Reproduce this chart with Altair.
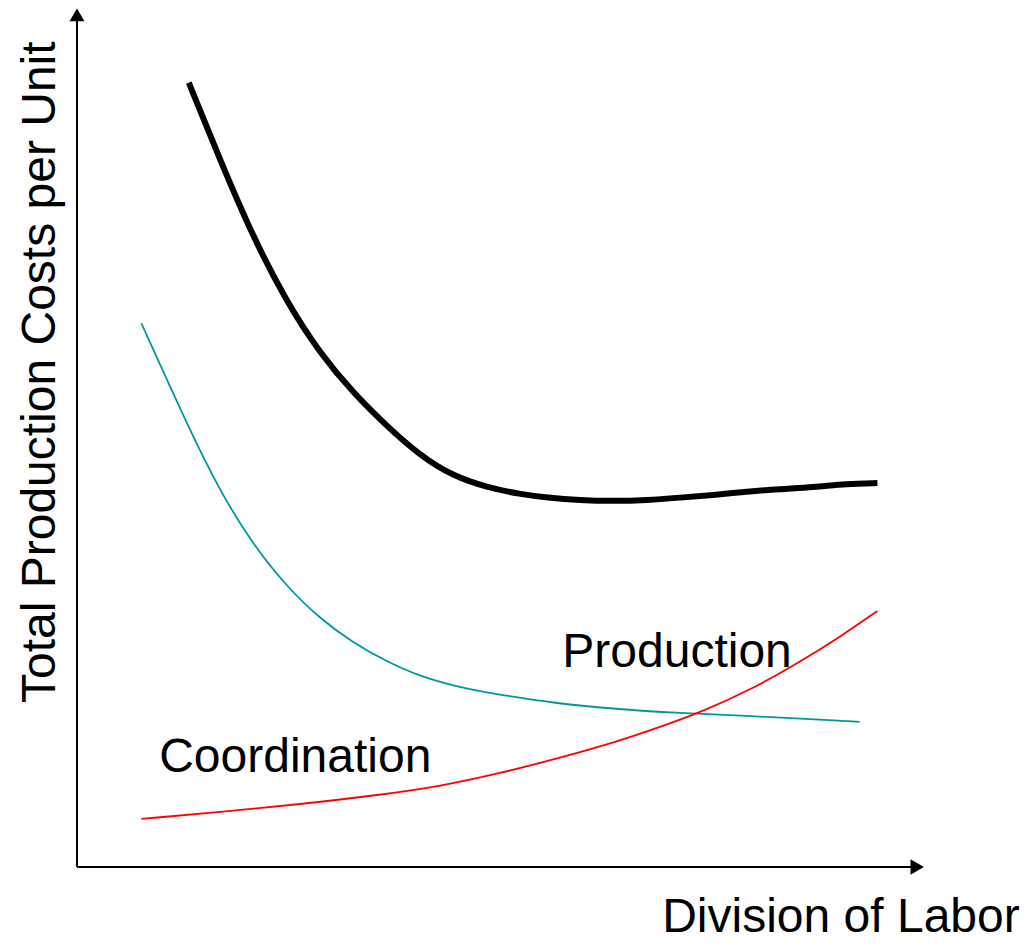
import altair as alt
import pandas as pd

# ---- data (abstract units: x 0..100 division of labor, y 0..100 cost) ----
total_x = [13.2, 16.9, 20.8, 24.8, 28.7, 32.6, 36.6, 40.5, 44.4, 48.4, 52.3, 55.5,
           59.4, 63.3, 67.3, 71.2, 75.1, 79.1, 83.0, 86.9, 90.9, 94.5]
total_y = [91.3, 82.3, 73.3, 65.7, 59.8, 55.2, 51.3, 47.9, 45.5, 44.2, 43.4, 43.0,
           42.7, 42.6, 42.7, 43.0, 43.3, 43.7, 44.0, 44.2, 44.6, 44.7]

coord_x = [7.6, 13.0, 16.9, 20.8, 24.8, 28.7, 32.6, 36.6, 40.5, 44.4, 48.4, 52.3, 55.5,
           63.3, 71.2, 79.1, 86.9, 92.4]
coord_y = [63.3, 51.5, 43.7, 37.5, 32.6, 28.9, 26.1, 23.9, 22.2, 21.1, 20.3, 19.7, 19.2,
           18.4, 17.9, 17.6, 17.2, 16.9]

prod_x = [7.6, 16.9, 26.3, 35.8, 42.9, 49.9, 57.0, 64.1, 68.8, 73.6, 79.5, 85.4,
          90.1, 94.5]
prod_y = [5.6, 6.4, 7.3, 8.4, 9.4, 10.9, 12.7, 14.7, 16.3, 18.0, 20.6, 23.9,
          26.8, 29.8]

label_texts = ["Coordination", "Production"]
label_x = [9.7, 57.3]
label_y = [11.1, 23.3]

x_title = "Division of Labor"
y_title = "Total Production Costs per Unit"

FONT = "Liberation Sans"

xs = alt.Scale(domain=[0, 100], nice=False, zero=False)
ys = alt.Scale(domain=[0, 100], nice=False, zero=False)


def curve(xv, yv, color, width):
    df = pd.DataFrame({"x": xv, "y": yv, "order": list(range(len(xv)))})
    return alt.Chart(df).mark_line(
        interpolate="basis", color=color, strokeWidth=width, strokeCap="butt"
    ).encode(
        x=alt.X("x:Q", scale=xs, axis=None),
        y=alt.Y("y:Q", scale=ys, axis=None),
        order="order:Q",
    )


total_line = curve(total_x, total_y, "#000000", 6)
coord_line = curve(coord_x, coord_y, "#009999", 1.8)
prod_line = curve(prod_x, prod_y, "#FF0000", 1.8)

# axes with arrows
axis_lines = pd.DataFrame({"x": [0, 0], "y": [0, 0], "x2": [0, 98.6], "y2": [98.6, 0]})
axes = alt.Chart(axis_lines).mark_rule(color="black", strokeWidth=2).encode(
    x=alt.X("x:Q", scale=xs, axis=None),
    y=alt.Y("y:Q", scale=ys, axis=None),
    x2="x2:Q",
    y2="y2:Q",
)

arrow_up = alt.Chart(pd.DataFrame({"x": [0], "y": [99.2]})).mark_point(
    shape="triangle-up", size=225, filled=True, color="black", opacity=1
).encode(x=alt.X("x:Q", scale=xs, axis=None), y=alt.Y("y:Q", scale=ys, axis=None))

arrow_right = alt.Chart(pd.DataFrame({"x": [99.2], "y": [0]})).mark_point(
    shape="triangle-right", size=240, filled=True, color="black", opacity=1
).encode(x=alt.X("x:Q", scale=xs, axis=None), y=alt.Y("y:Q", scale=ys, axis=None))

labels = alt.Chart(pd.DataFrame({"t": label_texts, "x": label_x, "y": label_y})).mark_text(
    font=FONT, fontSize=48, align="left", baseline="alphabetic", color="black"
).encode(x=alt.X("x:Q", scale=xs, axis=None), y=alt.Y("y:Q", scale=ys, axis=None), text="t:N")

xlab = alt.Chart(pd.DataFrame({"t": [x_title], "x": [111.3], "y": [-7.6]})).mark_text(
    font=FONT, fontSize=48, align="right", baseline="alphabetic", color="black"
).encode(x=alt.X("x:Q", scale=xs, axis=None), y=alt.Y("y:Q", scale=ys, axis=None), text="t:N")

ylab = alt.Chart(pd.DataFrame({"t": [y_title], "x": [-2.6], "y": [57.6]})).mark_text(
    font=FONT, fontSize=48, align="center", baseline="alphabetic", angle=270, color="black"
).encode(x=alt.X("x:Q", scale=xs, axis=None), y=alt.Y("y:Q", scale=ys, axis=None), text="t:N")

chart = alt.layer(coord_line, prod_line, total_line, axes, arrow_up, arrow_right,
                  labels, xlab, ylab).properties(
    width=847,
    height=859,
    autosize=alt.AutoSizeParams(type="none"),
    padding={"left": 69, "top": 0, "right": 98, "bottom": 76},
    background="white",
).configure_view(stroke=None)

chart.save("out.html", embed_options={"renderer": "svg", "actions": False})
